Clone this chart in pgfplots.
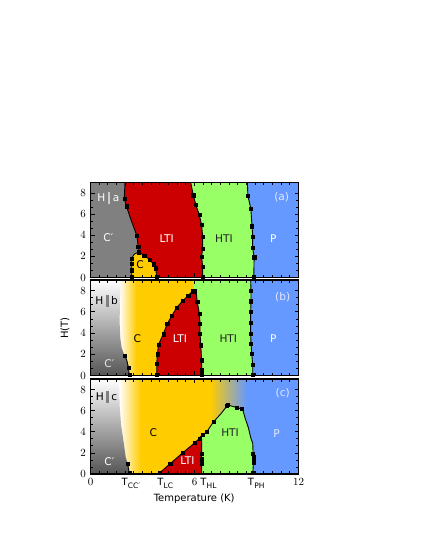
\documentclass[border=0pt]{standalone}
\usepackage{fontspec}
\setmainfont{DejaVu Sans}
\usepackage{pgfplots}
\pgfplotsset{compat=1.18}
\definecolor{cG}{HTML}{808080}
\definecolor{cR}{HTML}{CC0000}
\definecolor{cY}{HTML}{FFCC00}
\definecolor{cH}{HTML}{99FF66}
\definecolor{cB}{HTML}{6699FF}
\definecolor{cM}{HTML}{C8BCA8}
\definecolor{cD}{HTML}{555555}
\definecolor{cT}{HTML}{222222}
\definecolor{cL}{HTML}{E4EAFF}
\newcommand{\lab}{\fontsize{10}{11}\selectfont}
\newcommand{\rlab}{\fontsize{10.6}{12}\selectfont}
\newcommand{\Tl}[1]{T\kern0.2pt\raisebox{-2.4pt}{\fontsize{7.5}{7.5}\selectfont #1}}
\newcommand{\Hpar}[2]{H\hspace{2.5pt}\textcolor{#1}{\rule[-2.5pt]{2.6pt}{12pt}}\hspace{2.5pt}#2}
\pgfplotsset{
  panel/.style={
    scale only axis, width=208pt,
    xmin=0,xmax=12,ymin=0,ymax=9,
    xtick={0,6,12}, minor x tick num=11,
    ytick={0,2,4,6,8}, minor y tick num=2,
    axis on top,
    axis line style={line width=1.1pt},
    tick style={black, line width=0.7pt},
    major tick length=4pt, minor tick length=2.8pt,
    tick label style={font=\fontsize{10.5}{11}\selectfont},
    yticklabel style={xshift=-1pt},
    xticklabel style={yshift=-1pt},
    anchor=south west,
  },
  bl/.style={black, line width=0.9pt, no marks},
  mk/.style={black, only marks, mark=square*, mark size=1.6pt},
}
\begin{document}
\begin{tikzpicture}
\path[use as bounding box] (0,0) rectangle (421pt,545pt);
% ---------------- panel (a)
\begin{axis}[panel, height=95pt, at={(90.5pt,267.5pt)}, xticklabels={}]
\addplot[draw=none, fill=cB] coordinates {(0,0) (12,0) (12,9) (0,9)} -- cycle;
\addplot[draw=none, fill=cH] coordinates {(5.78,9) (5.93,7.8) (6.08,6.87) (6.28,5.92) (6.41,4.97) (6.47,3.86) (6.47,2.75) (6.41,2.0) (6.47,1.0) (6.47,0) (9.42,0) (9.44,1.93) (9.35,2.85) (9.36,3.87) (9.32,4.85) (9.25,6.5) (9.08,7.75) (9.05,9)} -- cycle;
\addplot[draw=none, fill=cR] coordinates {(1.99,9) (1.95,7.45) (2.07,6.75) (2.35,5.4) (2.68,3.95) (2.75,2.92) (2.76,2.40) (2.5,0) (6.47,0) (6.47,1.0) (6.41,2.0) (6.47,2.75) (6.47,3.86) (6.41,4.97) (6.28,5.92) (6.08,6.87) (5.93,7.8) (5.78,9)} -- cycle;
\addplot[draw=none, fill=cG] coordinates {(0,0) (2.38,0) (2.38,1.85) (2.53,2.21) (2.76,2.40) (2.75,2.92) (2.68,3.95) (2.35,5.4) (2.07,6.75) (1.95,7.45) (1.99,9) (0,9)} -- cycle;
\addplot[draw=none, fill=cY] coordinates {(2.38,0) (2.38,1.85) (2.53,2.21) (2.76,2.40) (3.10,2.09) (3.43,1.67) (3.63,1.26) (3.76,0.88) (3.82,0)} -- cycle;
% boundaries
\addplot[bl] coordinates {(1.99,9) (1.95,7.45) (2.07,6.75) (2.35,5.4) (2.68,3.95) (2.75,2.92) (2.76,2.40)};
\addplot[bl] coordinates {(2.38,0) (2.38,1.85) (2.53,2.21) (2.76,2.40) (3.10,2.09) (3.43,1.67) (3.63,1.26) (3.76,0.88) (3.82,0)};
\addplot[bl] coordinates {(5.78,9) (5.93,7.8) (6.08,6.87) (6.28,5.92) (6.41,4.97) (6.47,3.86) (6.47,2.75) (6.41,2.0) (6.47,1.0) (6.47,0)};
\addplot[bl] coordinates {(9.05,9) (9.08,7.75) (9.25,6.5) (9.32,4.85) (9.36,3.87) (9.35,2.85) (9.44,1.93) (9.42,0)};
\addplot[mk] coordinates {(1.95,7.45) (2.07,6.75) (2.68,3.95) (2.75,2.92) (2.76,2.40)
  (2.38,0.1) (2.38,0.7) (2.38,1.3) (2.38,1.8) (3.10,2.09) (3.43,1.67) (3.63,1.26) (3.76,0.88) (3.82,0.1)
  (5.93,7.8) (6.08,6.87) (6.28,5.92) (6.41,4.97) (6.47,3.86) (6.47,2.75) (6.41,2.0) (6.47,1.0) (6.47,0.1)
  (9.08,7.75) (9.25,6.5) (9.32,4.85) (9.36,3.87) (9.35,2.85) (9.44,1.93) (9.42,0.1)};
\node[font=\rlab, text=white] at (axis cs:1.03,7.5) {\Hpar{white!80!black}{a}};
\node[font=\rlab, text=white] at (axis cs:1.03,3.76) {C′};
\node[font=\rlab, text=white] at (axis cs:4.4,3.7) {LTI};
\node[font=\rlab, text=cT] at (axis cs:7.7,3.7) {HTI};
\node[font=\rlab, text=white] at (axis cs:10.55,3.7) {P};
\node[font=\rlab, text=black] at (axis cs:2.86,1.23) {C};
\node[font=\rlab, text=cL] at (axis cs:11.03,7.65) {(a)};
\end{axis}
% ---------------- panel (b)
\begin{axis}[panel, height=95.5pt, at={(90.5pt,169.5pt)}, xticklabels={}]
\addplot[draw=none, fill=cB] coordinates {(0,0) (12,0) (12,9) (0,9)} -- cycle;
\addplot[draw=none, fill=cY] coordinates {(0,0) (7,0) (7,9) (0,9)} -- cycle;
\addplot[draw=none, left color=white, right color=cY] coordinates {(1.65,0) (2.65,0) (2.65,9) (1.65,9)} -- cycle;
\addplot[draw=none, fill=white] coordinates {(0,0) (1.66,0) (1.66,9) (0,9)} -- cycle;
\addplot[draw=none, fill=cH] coordinates {(5.9,9) (5.95,8.3) (6.0,8.0) (6.1,7.8) (6.16,6.92) (6.28,5.83) (6.32,4.9) (6.32,3.96) (6.36,2.86) (6.41,1.45) (6.41,0.5) (6.41,0) (9.36,0) (9.36,0.98) (9.3,2.08) (9.26,3.0) (9.24,3.96) (9.24,4.95) (9.24,5.98) (9.26,7.0) (9.26,8.0) (9.24,9)} -- cycle;
\addplot[draw=none, fill=cR] coordinates {(3.82,0) (3.82,1.14) (3.86,2.0) (3.92,2.9) (4.2,3.9) (4.42,4.85) (4.69,5.62) (4.97,6.4) (5.32,7.03) (5.64,7.54) (5.9,7.95) (6.0,7.95) (6.1,7.8) (6.16,6.92) (6.28,5.83) (6.32,4.9) (6.32,3.96) (6.36,2.86) (6.41,1.45) (6.41,0.5) (6.41,0)} -- cycle;
\addplot[draw=none, top color=white, middle color=white, bottom color=cD] coordinates {(0,0) (2.24,0) (2.18,0.83) (2.09,1.45) (1.95,1.92) (1.8,2.6) (1.72,3.5) (1.68,5) (1.7,7) (1.75,9) (0,9)} -- cycle;
\addplot[bl] coordinates {(2.24,0) (2.18,0.83) (2.09,1.45) (1.97,1.9)};
\addplot[bl] coordinates {(3.82,0) (3.82,1.14) (3.86,2.0) (3.92,2.9) (4.2,3.9) (4.42,4.85) (4.69,5.62) (4.97,6.4) (5.32,7.03) (5.64,7.54) (5.9,7.95) (6.0,7.95) (6.1,7.8) (6.16,6.92) (6.28,5.83) (6.32,4.9) (6.32,3.96) (6.36,2.86) (6.41,1.45) (6.41,0.5) (6.41,0)};
\addplot[bl] coordinates {(9.24,9) (9.26,8.0) (9.26,7.0) (9.24,5.98) (9.24,4.95) (9.24,3.96) (9.26,3.0) (9.3,2.08) (9.36,0.98) (9.36,0)};
\addplot[mk] coordinates {(1.97,1.9) (2.2,0.7) (2.24,0.1)
  (3.82,0.1) (3.82,1.14) (3.86,2.0) (3.92,2.9) (4.2,3.9) (4.42,4.85) (4.69,5.62) (4.97,6.4) (5.32,7.03) (5.64,7.54) (5.9,7.95) (6.0,7.95)
  (6.16,6.92) (6.28,5.83) (6.32,4.9) (6.32,3.96) (6.36,2.86) (6.41,1.45) (6.41,0.5) (6.41,0.1)
  (9.26,8.0) (9.26,7.0) (9.24,5.98) (9.24,4.95) (9.24,3.96) (9.26,3.0) (9.3,2.08) (9.36,0.98) (9.36,0.1)};
\node[font=\rlab, text=black] at (axis cs:0.93,6.98) {\Hpar{cG}{b}};
\node[font=\rlab, text=white!90!black] at (axis cs:1.09,1.14) {C′};
\node[font=\rlab, text=black] at (axis cs:2.7,3.49) {C};
\node[font=\rlab, text=white] at (axis cs:5.16,3.49) {LTI};
\node[font=\rlab, text=cT] at (axis cs:7.95,3.49) {HTI};
\node[font=\rlab, text=white] at (axis cs:10.55,3.49) {P};
\node[font=\rlab, text=cL] at (axis cs:11.09,7.39) {(b)};
\end{axis}
% ---------------- panel (c)
\begin{axis}[panel, height=95pt, at={(90.5pt,71pt)},
  xticklabels={$0$,$6$,$12$},
  extra x ticks={2.33,4.31,6.8,9.56},
  extra x tick labels={\Tl{CC′},\Tl{LC},\Tl{HL},\Tl{PH}},
  extra x tick style={major tick length=0pt, xticklabel style={font=\lab}}]
\addplot[draw=none, fill=cB] coordinates {(0,0) (12,0) (12,9) (0,9)} -- cycle;
\addplot[draw=none, fill=cY] coordinates {(0,0) (7,0) (7,9) (0,9)} -- cycle;
\addplot[draw=none, left color=cY, middle color=cM, right color=cB] coordinates {(6.9,0) (9.0,0) (9.0,9) (6.9,9)} -- cycle;
\addplot[draw=none, left color=white, right color=cY] coordinates {(1.65,0) (2.9,0) (2.9,9) (1.65,9)} -- cycle;
\addplot[draw=none, fill=white] coordinates {(0,0) (1.66,0) (1.66,9) (0,9)} -- cycle;
\addplot[draw=none, top color=white, middle color=white, bottom color=cD] coordinates {(0,0) (2.24,0) (2.14,1.0) (2.03,1.6) (1.9,3.15) (1.76,4.7) (1.68,6.5) (1.65,9) (0,9)} -- cycle;
\addplot[draw=none, fill=cR] coordinates {(3.85,0) (4.0,0.12) (4.6,0.98) (5.3,1.98) (6.03,2.97) (6.28,3.38) (6.41,3.3) (6.41,0)} -- cycle;
\addplot[draw=none, fill=cH] coordinates {(6.41,0) (6.41,3.3) (6.32,3.5) (6.7,3.97) (7.09,4.93) (7.52,5.7) (7.88,6.45) (7.92,6.55) (8.2,6.4) (8.44,6.31) (8.72,6.15) (8.8,6.0) (8.92,5.3) (9.11,4.37) (9.25,3.4) (9.36,2.9) (9.38,1.93) (9.4,1.1) (9.36,0)} -- cycle;
\addplot[bl] coordinates {(2.24,0) (2.14,1.0)};
\addplot[bl] coordinates {(3.85,0) (4.0,0.12) (4.6,0.98) (5.3,1.98) (6.03,2.97) (6.28,3.38) (6.32,3.5) (6.7,3.97) (7.09,4.93) (7.52,5.7) (7.88,6.45) (7.92,6.55) (8.2,6.4) (8.44,6.31) (8.72,6.15) (8.8,6.0) (8.92,5.3) (9.11,4.37) (9.25,3.4) (9.36,2.9) (9.38,1.93) (9.4,1.1) (9.36,0)};
\addplot[bl] coordinates {(6.41,0) (6.41,3.3) (6.32,3.5)};
\addplot[mk] coordinates {(2.14,1.0) (2.24,0.1)
  (4.0,0.12) (4.6,0.98) (5.3,1.98) (6.03,2.97) (6.28,3.38) (6.45,3.69) (6.7,3.97) (7.09,4.93) (7.88,6.45) (7.92,6.6) (8.44,6.31) (8.72,6.15)
  (6.41,0.95) (6.41,1.2) (6.41,1.48) (6.41,1.96)
  (9.38,1.93) (9.4,1.6) (9.4,1.33) (9.4,1.1) (9.36,0.1)};
\node[font=\rlab, text=black] at (axis cs:0.93,7.32) {\Hpar{cG}{c}};
\node[font=\rlab, text=white] at (axis cs:1.09,1.17) {C′};
\node[font=\rlab, text=black] at (axis cs:3.63,3.92) {C};
\node[font=\rlab, text=white] at (axis cs:5.59,1.26) {LTI};
\node[font=\rlab, text=cT] at (axis cs:8.05,3.92) {HTI};
\node[font=\rlab, text=cL] at (axis cs:10.74,3.79) {P};
\node[font=\rlab, text=cL] at (axis cs:11.09,7.64) {(c)};
\end{axis}
\node[font=\lab, rotate=90] at (65pt,217pt) {H(T)};
\node[font=\lab] at (194.2pt,46.7pt) {Temperature (K)};
\end{tikzpicture}
\end{document}
